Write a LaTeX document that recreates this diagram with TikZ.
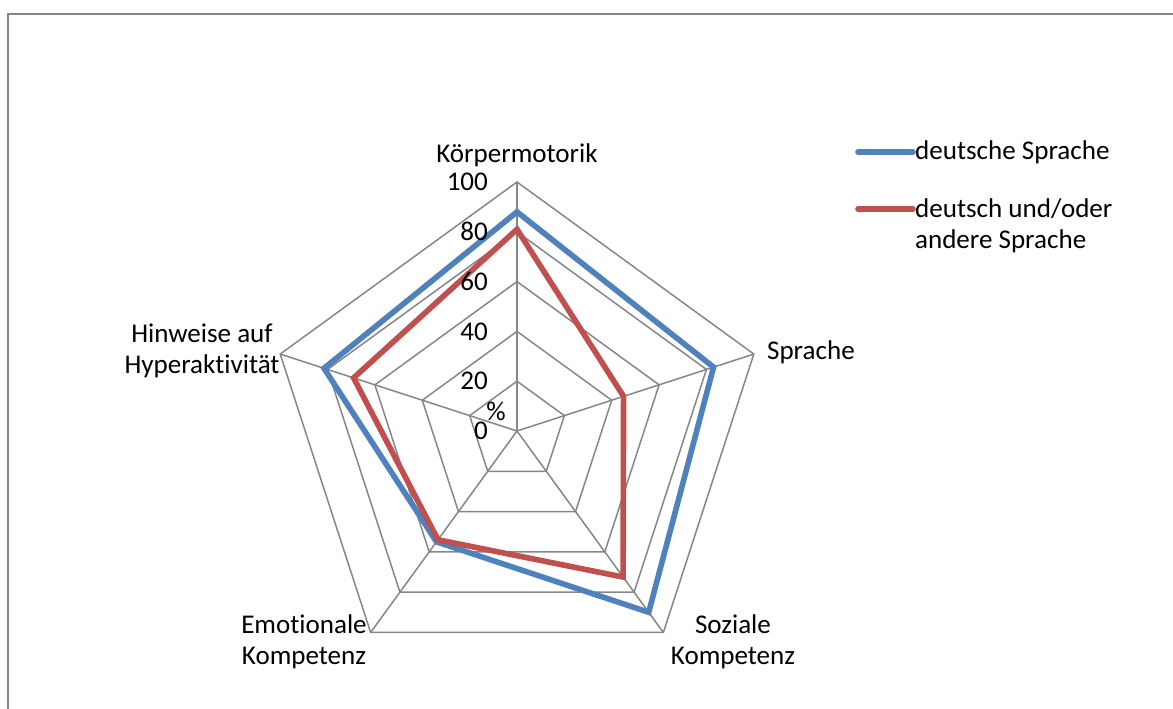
\documentclass[tikz,border=0pt]{standalone}
\usepackage{fontspec}
\setmainfont{Carlito}[Ligatures=NoCommon]
\usetikzlibrary{positioning,calc}
\definecolor{dsblue}{HTML}{4F81BD}
\definecolor{dsred}{HTML}{C0504D}
\definecolor{gridgray}{HTML}{868686}

\begin{document}
\begin{tikzpicture}[x=0.02cm, y=0.02cm, every node/.style={font=\fontsize{15.4}{17.6}\selectfont, inner sep=1pt},
		grid/.style={draw=gridgray, line width=0.85pt},
		series/.style={line width=3.2pt, line join=miter}]
		\useasboundingbox (0,0) rectangle (1173,708);
		\clip (0,0) rectangle (1173,708);
		\draw[gridgray, line width=1.2pt] (8,-20) rectangle (1200,694);
		
		\begin{scope}[shift={(517,277)}]
			\coordinate (c) at (0,0);
			% net
			\foreach \v in {20,40,60,80,100}
			{
				\draw[grid] (90:{2.49*\v}) -- (18:{2.49*\v}) -- (-54:{2.49*\v}) -- (-126:{2.49*\v}) -- (162:{2.49*\v}) -- cycle;
			}
			\foreach \a in {90,18,-54,-126,162}
				\draw[grid] (c) -- (\a:249);
			
			% values
			\foreach \a/\v [count=\i] in {90/88, 18/83, -54/90, -126/55, 162/81.5}
				\coordinate (b\i) at (\a:{2.49*\v});
			\foreach \a/\v [count=\i] in {90/81, 18/45, -54/72.5, -126/54, 162/69}
				\coordinate (r\i) at (\a:{2.49*\v});
			\draw[series, dsblue] (b1) -- (b2) -- (b3) -- (b4) -- (b5) -- cycle;
			\draw[series, dsred] (r1) -- (r2) -- (r3) -- (r4) -- (r5) -- cycle;
			
			\foreach \v in {0,20,40,60,80,100}
				\node[anchor=east] (t\v) at (-27, {2.49*\v}) {\v};
			\node (pct) at (-21, 20) {\%};
		\end{scope}
		
		\node (kmot) at (517,553) {Körpermotorik};
		\node[anchor=west] (spr) at (765,356) {Sprache};
		\node[align=center] (soz) at (733,66) {Soziale\\Kompetenz};
		\node[align=center] (emo) at (304,66) {Emotionale\\Kompetenz};
		\node[align=center] (hyp) at (202,357) {Hinweise auf\\Hyperaktivität};
		
		% legend
		\node[anchor=west] (lb) at (913,556) {deutsche Sprache};
		\node[anchor=north west, align=left] (lr) at (913,511) {deutsch und/oder\\andere Sprache};
		\coordinate (lb0) at (858,556);
		\coordinate (lr0) at (858,499);
		\draw[dsblue, line width=3.2pt, line cap=round] (lb0) -- (lb.west);
		\draw[dsred, line width=3.2pt, line cap=round] (lr0) -- (lr0 -| lr.west);
	\end{tikzpicture}
\end{document}
